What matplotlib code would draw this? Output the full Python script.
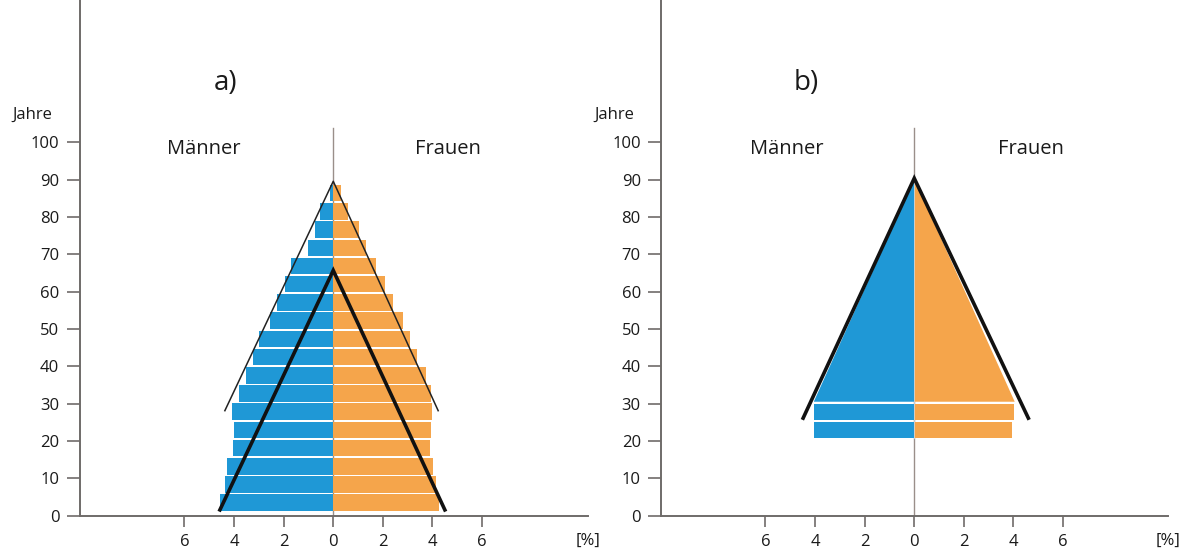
import matplotlib
matplotlib.use("Agg")
import matplotlib.pyplot as plt
import numpy as np

plt.rcParams['font.family'] = ['Open Sans', 'DejaVu Sans']

# ---------------- data ----------------
age_groups = [0, 5, 10, 15, 20, 25, 30, 35, 40, 45, 50, 55, 60, 65, 70, 75, 80, 85]
maenner_a = [4.55, 4.37, 4.27, 4.06, 4.02, 4.07, 3.79, 3.52, 3.22, 3.00,
             2.56, 2.25, 1.95, 1.71, 1.00, 0.74, 0.54, 0.15]
frauen_a = [4.28, 4.15, 4.03, 3.92, 3.96, 4.00, 3.96, 3.73, 3.36, 3.09,
            2.81, 2.41, 2.08, 1.72, 1.34, 1.03, 0.58, 0.32]

# outline triangles of panel a: (apex age, base age, left x, right x)
thin_tri_a = (89.6, 28.1, -4.37, 4.23)
thick_tri_a = (65.7, 1.5, -4.57, 4.50)

# panel b
age_groups_b = [20, 25]
maenner_b = [4.03, 4.03]
frauen_b = [3.95, 4.03]
fill_tri_b = (90.2, 30.5, 4.05)          # apex age, base age, half width
line_tri_b = (90.4, 26.1, -4.48, 4.60)

y_ticks = [0, 10, 20, 30, 40, 50, 60, 70, 80, 90, 100]
x_ticks = [-6, -4, -2, 0, 2, 4, 6]
x_ticklabels = ['6', '4', '2', '0', '2', '4', '6']

BLUE = '#1f98d6'
ORANGE = '#f5a54b'
AXC = '#6f6b69'
TXT = '#1a1a1a'

W, H = 1185, 553
fig = plt.figure(figsize=(W / 100, H / 100), dpi=100)
fig.patch.set_facecolor('white')

ax_bottom = (H - 515.5) / H
ax_h = 515.5 / H
ax_a = fig.add_axes([79.5 / W, ax_bottom, (588 - 79.5) / W, ax_h])
ax_b = fig.add_axes([661 / W, ax_bottom, (1168 - 661) / W, ax_h])

ax_a.set_xlim(-10.23, 10.27)
ax_b.set_xlim(-10.21, 10.23)

band_scale = 0.976   # drawn band height per year in the original scan
band_off = 1.0
gap = 0.45           # white gap between bands (in years)


def style(ax, xm, xf):
    ax.set_ylim(0, 138.2)
    for s in ['top', 'right']:
        ax.spines[s].set_visible(False)
    for s in ['left', 'bottom']:
        ax.spines[s].set_color(AXC)
        ax.spines[s].set_linewidth(1.4)
    ax.set_yticks(y_ticks)
    ax.set_yticklabels([str(v) for v in y_ticks])
    ax.set_xticks(x_ticks)
    ax.set_xticklabels(x_ticklabels)
    ax.tick_params(axis='y', direction='out', length=9.5, width=1.2, color=AXC,
                   pad=5, labelsize=12, labelcolor=TXT)
    ax.tick_params(axis='x', direction='out', length=8, width=1.2, color=AXC,
                   pad=5, labelsize=12, labelcolor=TXT)
    # center line
    ax.plot([0, 0], [0, 104], color='#9a8f8a', lw=1.0, zorder=1)
    ax.text(-0.132, 107.4, 'Jahre', transform=ax.get_yaxis_transform(),
            ha='left', va='center', fontsize=12, color=TXT)
    ax.text(1.0, -0.0495, '[%]', transform=ax.transAxes, ha='center', va='center',
            fontsize=12, color=TXT)
    ax.text(xm, 98.3, 'Männer', ha='center', va='center', fontsize=14.5, color=TXT)
    ax.text(xf, 98.3, 'Frauen', ha='center', va='center', fontsize=14.5, color=TXT)


# ---------------- panel a ----------------
ages = np.array(age_groups, dtype=float)
bottoms = band_off + ages * band_scale + gap / 2
hgt = 5 * band_scale - gap
ax_a.barh(bottoms, -np.array(maenner_a), height=hgt, align='edge', color=BLUE,
          linewidth=0, zorder=2)
ax_a.barh(bottoms, frauen_a, height=hgt, align='edge', color=ORANGE,
          linewidth=0, zorder=2)

ap, base, xl, xr = thin_tri_a
ax_a.plot([xl, 0, xr], [base, ap, base], color='#222222', lw=1.1, zorder=4)
ap, base, xl, xr = thick_tri_a
ax_a.plot([xl, 0, xr], [base, ap, base], color='#111111', lw=2.6, zorder=4,
          solid_joinstyle='miter')
style(ax_a, -5.21, 4.62)
ax_a.text(-4.33, 116, 'a)', ha='center', va='center', fontsize=20, color=TXT)

# ---------------- panel b ----------------
apb, baseb, hw = fill_tri_b
ax_b.fill([0, -hw, 0], [apb, baseb, baseb], color=BLUE, lw=0, zorder=2)
ax_b.fill([0, hw, 0], [apb, baseb, baseb], color=ORANGE, lw=0, zorder=2)
agesb = np.array(age_groups_b, dtype=float)
bottomsb = band_off + agesb * band_scale + gap / 2
ax_b.barh(bottomsb, -np.array(maenner_b), height=hgt - 0.1, align='edge', color=BLUE,
          linewidth=0, zorder=2)
ax_b.barh(bottomsb, frauen_b, height=hgt - 0.1, align='edge', color=ORANGE,
          linewidth=0, zorder=2)
ax_b.plot([0, 0], [bottomsb[0], apb], color='#cfd6dc', lw=0.6, zorder=3)
ap, base, xl, xr = line_tri_b
ax_b.plot([xl, 0, xr], [base, ap, base], color='#111111', lw=2.6, zorder=4,
          solid_joinstyle='miter')
style(ax_b, -5.14, 4.71)
ax_b.text(-4.37, 116, 'b)', ha='center', va='center', fontsize=20, color=TXT)

fig.savefig('out.png', dpi=100)
